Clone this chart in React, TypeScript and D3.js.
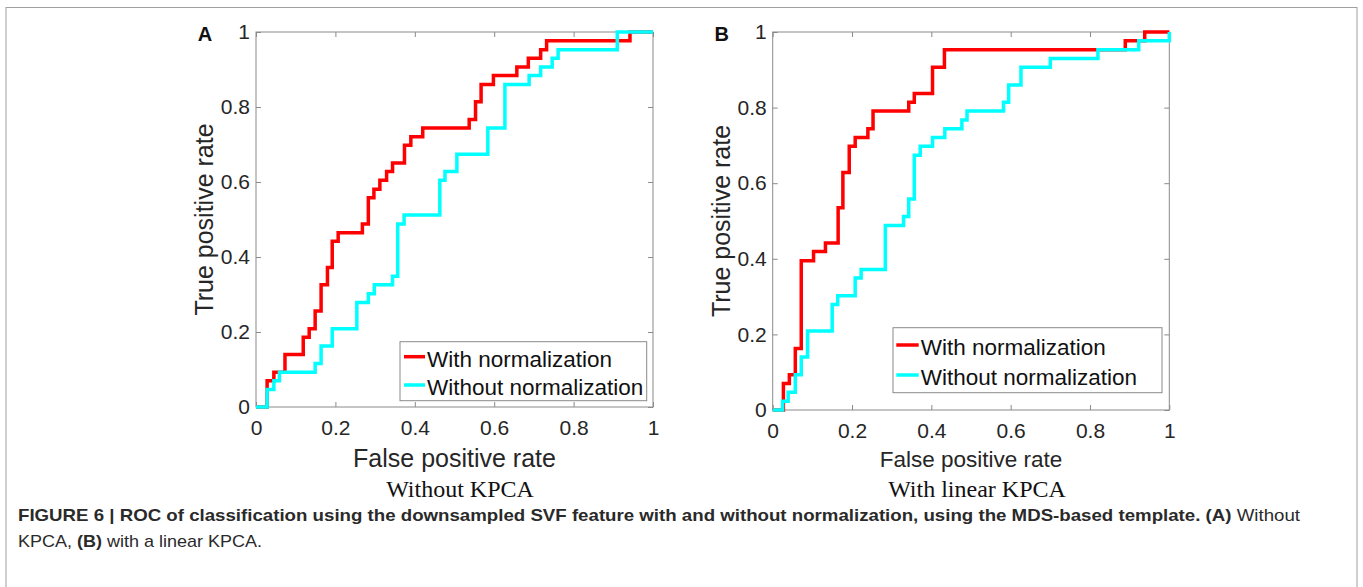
import { useEffect, useRef } from 'react';
import * as d3 from 'd3';

// shared axis ticks
const tickValues = [0, 0.2, 0.4, 0.6, 0.8, 1];
const tickLabels = ['0', '0.2', '0.4', '0.6', '0.8', '1'];
const legendLabels = ['With normalization', 'Without normalization'];
const seriesColors = ['#FF0000', '#00FFFF'];

// Panel A (without KPCA): [false positive rate, true positive rate] at each step
const rocNormA: [number, number][] = [
  [0, 0], [0.028, 0.070], [0.045, 0.093], [0.073, 0.140], [0.119, 0.186],
  [0.134, 0.209], [0.149, 0.256], [0.164, 0.326], [0.180, 0.372], [0.192, 0.442],
  [0.207, 0.465], [0.268, 0.488], [0.283, 0.558], [0.297, 0.581], [0.312, 0.605],
  [0.329, 0.628], [0.344, 0.651], [0.374, 0.698], [0.390, 0.721], [0.420, 0.744],
  [0.537, 0.767], [0.553, 0.814], [0.567, 0.860], [0.598, 0.884], [0.657, 0.907],
  [0.686, 0.930], [0.717, 0.953], [0.732, 0.977], [0.942, 1.0], [1.0, 1.0],
];
const rocRawA: [number, number][] = [
  [0, 0], [0.028, 0.047], [0.045, 0.070], [0.059, 0.093], [0.149, 0.116],
  [0.164, 0.163], [0.192, 0.209], [0.254, 0.279], [0.283, 0.302], [0.298, 0.326],
  [0.344, 0.349], [0.357, 0.488], [0.373, 0.512], [0.463, 0.605], [0.476, 0.628],
  [0.506, 0.674], [0.584, 0.744], [0.627, 0.860], [0.688, 0.884], [0.717, 0.907],
  [0.746, 0.930], [0.761, 0.953], [0.910, 1.0], [1.0, 1.0],
];

// Panel B (with linear KPCA)
const rocNormB: [number, number][] = [
  [0, 0], [0.027, 0.070], [0.042, 0.093], [0.057, 0.163], [0.072, 0.395],
  [0.103, 0.419], [0.133, 0.442], [0.165, 0.535], [0.177, 0.628], [0.193, 0.698],
  [0.208, 0.721], [0.240, 0.744], [0.253, 0.791], [0.343, 0.814], [0.357, 0.837],
  [0.403, 0.907], [0.433, 0.953], [0.889, 0.977], [0.938, 1.0], [1.0, 1.0],
];
const rocRawB: [number, number][] = [
  [0, 0], [0.025, 0.023], [0.039, 0.047], [0.057, 0.093], [0.072, 0.140],
  [0.088, 0.209], [0.150, 0.279], [0.164, 0.302], [0.208, 0.349], [0.223, 0.372],
  [0.284, 0.488], [0.330, 0.512], [0.343, 0.558], [0.357, 0.674], [0.372, 0.698],
  [0.403, 0.721], [0.434, 0.744], [0.477, 0.767], [0.490, 0.791], [0.582, 0.814],
  [0.595, 0.860], [0.626, 0.907], [0.700, 0.930], [0.820, 0.953], [0.923, 0.977],
  [1.0, 1.0],
];

interface PanelSpec {
  letter: string;
  subtitle: string;
  curves: [number, number][][];
  left: number;
  top: number;
  width: number;
  height: number;
  xLabelSize: number;
  xLabelDy: number;
  subtitleX: number;
  legend: { x: number; y: number; w: number; h: number; rows: number[]; lineX: [number, number] };
}

const panels: PanelSpec[] = [
  {
    letter: 'A',
    subtitle: 'Without KPCA',
    curves: [rocNormA, rocRawA],
    left: 256, top: 32, width: 397, height: 375,
    xLabelSize: 25, xLabelDy: 60, subtitleX: 460,
    legend: { x: 400, y: 341.7, w: 246.7, h: 59, rows: [356.7, 385], lineX: [404, 425] },
  },
  {
    letter: 'B',
    subtitle: 'With linear KPCA',
    curves: [rocNormB, rocRawB],
    left: 772.7, top: 32, width: 396.6, height: 378,
    xLabelSize: 22.5, xLabelDy: 57, subtitleX: 977,
    legend: { x: 893, y: 327.7, w: 269, h: 65, rows: [345, 375], lineX: [896.3, 918.7] },
  },
];

const SANS = "'Liberation Sans', Arial, Helvetica, sans-serif";
const SERIF = "'Liberation Serif', 'Times New Roman', serif";
const axisColor = '#8a8a8a';
const textColor = '#262626';

function drawPanel(root: d3.Selection<SVGGElement, unknown, null, undefined>, p: PanelSpec) {
  const g = root.append('g');
  const x = d3.scaleLinear().domain([0, 1]).range([p.left, p.left + p.width]);
  const y = d3.scaleLinear().domain([0, 1]).range([p.top + p.height, p.top]);
  const fmt = (_: d3.NumberValue, i: number) => tickLabels[i];

  // box
  g.append('rect')
    .attr('x', p.left).attr('y', p.top)
    .attr('width', p.width).attr('height', p.height)
    .attr('fill', 'none').attr('stroke', axisColor).attr('stroke-width', 1);

  // axes with inward ticks
  const bottom = g.append('g')
    .attr('transform', `translate(0,${y(0)})`)
    .call(d3.axisBottom(x).tickValues(tickValues).tickFormat(fmt).tickSizeInner(-5).tickSizeOuter(0).tickPadding(13));
  const left = g.append('g')
    .attr('transform', `translate(${x(0)},0)`)
    .call(d3.axisLeft(y).tickValues(tickValues).tickFormat(fmt).tickSizeInner(-5).tickSizeOuter(0).tickPadding(6));
  const topAx = g.append('g')
    .attr('transform', `translate(0,${y(1)})`)
    .call(d3.axisTop(x).tickValues(tickValues).tickFormat(() => '').tickSizeInner(-5).tickSizeOuter(0));
  const rightAx = g.append('g')
    .attr('transform', `translate(${x(1)},0)`)
    .call(d3.axisRight(y).tickValues(tickValues).tickFormat(() => '').tickSizeInner(-5).tickSizeOuter(0));

  [bottom, left, topAx, rightAx].forEach((ax) => {
    ax.select('.domain').remove();
    ax.selectAll('line').attr('stroke', axisColor);
    ax.attr('font-size', 21).attr('font-family', SANS);
    ax.selectAll('text').attr('fill', textColor);
  });

  // ROC step curves
  const line = d3.line<[number, number]>()
    .x((d) => x(d[0]))
    .y((d) => y(d[1]))
    .curve(d3.curveStepAfter);

  p.curves.forEach((c, i) => {
    g.append('path')
      .datum(c)
      .attr('d', line)
      .attr('fill', 'none')
      .attr('stroke', seriesColors[i])
      .attr('stroke-width', 3.5)
      .attr('stroke-linejoin', 'miter');
  });

  // legend
  const lg = p.legend;
  g.append('rect')
    .attr('x', lg.x).attr('y', lg.y).attr('width', lg.w).attr('height', lg.h)
    .attr('fill', '#fff').attr('stroke', axisColor).attr('stroke-width', 1);
  lg.rows.forEach((ry, i) => {
    g.append('line')
      .attr('x1', lg.lineX[0]).attr('x2', lg.lineX[1])
      .attr('y1', ry).attr('y2', ry)
      .attr('stroke', seriesColors[i]).attr('stroke-width', 3.5);
    g.append('text')
      .attr('x', lg.lineX[1] + 2)
      .attr('y', ry + 10)
      .attr('font-size', 22.5)
      .attr('font-family', SANS)
      .attr('fill', '#111')
      .text(legendLabels[i]);
  });

  // axis labels
  g.append('text')
    .attr('x', (x(0) + x(1)) / 2)
    .attr('y', y(0) + p.xLabelDy)
    .attr('text-anchor', 'middle')
    .attr('font-size', p.xLabelSize)
    .attr('font-family', SANS)
    .attr('fill', textColor)
    .text('False positive rate');

  g.append('text')
    .attr('transform', `translate(${x(0) - 43},${(y(0) + y(1)) / 2}) rotate(-90)`)
    .attr('text-anchor', 'middle')
    .attr('font-size', 25)
    .attr('font-family', SANS)
    .attr('fill', textColor)
    .text('True positive rate');

  g.append('text')
    .attr('x', p.subtitleX)
    .attr('y', 496.7)
    .attr('text-anchor', 'middle')
    .attr('font-size', 24)
    .attr('font-family', SERIF)
    .attr('fill', '#111')
    .text(p.subtitle);

  // panel letter
  g.append('text')
    .attr('x', x(0) - 51)
    .attr('y', 40.5)
    .attr('text-anchor', 'middle')
    .attr('font-size', 20)
    .attr('font-weight', 700)
    .attr('font-family', SANS)
    .attr('fill', '#111')
    .text(p.letter);
}

export default function App() {
  const gRef = useRef<SVGGElement>(null);

  useEffect(() => {
    if (!gRef.current) return;
    const root = d3.select(gRef.current);
    root.selectAll('*').remove();
    panels.forEach((p) => drawPanel(root, p));
  }, []);

  return (
    <svg
      width={1363}
      height={587}
      style={{ position: 'absolute', left: 0, top: 0, background: '#fff' }}
    >
      <rect x={6} y={7.5} width={1351} height={600} fill="none" stroke="#a0a0a0" strokeWidth={1} />
      <g ref={gRef} />
      <g fontFamily={SANS} fontSize={17} fill="#2a2a2a">
        <text x={18} y={521} textLength={1282} lengthAdjust="spacingAndGlyphs">
          <tspan fontWeight={700}>
            FIGURE 6 | ROC of classification using the downsampled SVF feature with and without normalization, using the MDS-based template.
          </tspan>
          <tspan> </tspan>
          <tspan fontWeight={700}>(A)</tspan>
          <tspan> Without</tspan>
        </text>
        <text x={18} y={547} textLength={244} lengthAdjust="spacingAndGlyphs">
          <tspan>KPCA, </tspan>
          <tspan fontWeight={700}>(B)</tspan>
          <tspan> with a linear KPCA.</tspan>
        </text>
      </g>
    </svg>
  );
}
